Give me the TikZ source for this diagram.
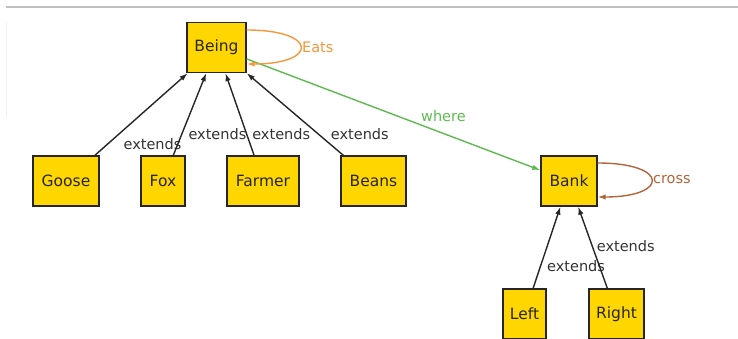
\documentclass[tikz,border=0pt]{standalone}
\usepackage{fontspec}
\setmainfont{DejaVu Sans}
\usetikzlibrary{arrows.meta}
\definecolor{boxfill}{HTML}{FFD600}
\definecolor{eatcol}{HTML}{F7963A}
\definecolor{crosscol}{HTML}{B2653C}
\definecolor{wherecol}{HTML}{5DBA4F}

\begin{document}
\begin{tikzpicture}[x=1pt, y=-1pt,
    thing/.style={draw=black!85, fill=boxfill, line width=1.4pt, minimum height=50pt,
      inner xsep=0pt, font=\fontsize{15.5}{18}\selectfont, text=black!85},
    ext/.style={-{Latex[length=8pt,width=5.5pt]}, line width=1.4pt, black!85},
    lbl/.style={font=\fontsize{14.5}{17}\selectfont, inner sep=1pt, text=black!80}]
  \useasboundingbox (0,0) rectangle (738,338);
  \clip (0,0) rectangle (738,338);
  % window edge
  \draw [black!25, line width=1.5pt] (6,7) -- (738,7);
  \draw [black!6, line width=1pt] (6,23) -- (6,117);
  % classes
  \node [thing, minimum width=59pt] (being) at (216.5,47.5) {Being};
  \node [thing, minimum width=66pt] (goose) at (66,181) {Goose};
  \node [thing, minimum width=44pt] (fox) at (163,181) {Fox};
  \node [thing, minimum width=72pt] (farmer) at (263,181) {Farmer};
  \node [thing, minimum width=65pt] (beans) at (373.5,181) {Beans};
  \node [thing, minimum width=56pt] (bank) at (569,181) {Bank};
  \node [thing, minimum width=43pt] (leftbank) at (524.5,314) {Left};
  \node [thing, minimum width=55pt] (rightbank) at (616.5,314) {Right};
  % extends
  \draw [ext] (goose) -- node [lbl, pos=0.14, anchor=west, xshift=14pt] {extends} (being);
  \draw [ext] (fox) -- node [lbl, pos=0.26, anchor=west, xshift=5pt] {extends} (being);
  \draw [ext] (farmer) -- node [lbl, pos=0.26, anchor=west, xshift=4pt] {extends} (being);
  \draw [ext] (beans) -- node [lbl, pos=0.26, anchor=west, xshift=11pt] {extends} (being);
  \draw [ext] (leftbank) -- node [lbl, pos=0.27, anchor=west, xshift=5pt] {extends} (bank);
  \draw [ext] (rightbank) -- node [lbl, pos=0.52, anchor=west, xshift=3pt] {extends} (bank);
  % relations
  \draw [ext, wherecol] (being) -- node [lbl, text=wherecol, pos=0.67, above=10pt] {where} (bank);
  \draw [ext, eatcol] ([yshift=17.5pt]being.east) to [out=0, in=0, looseness=5.4]
    node [lbl, text=eatcol, anchor=west, inner sep=1pt] {Eats} ([yshift=-16.5pt]being.east);
  \draw [ext, crosscol] ([yshift=18pt]bank.east) to [out=0, in=0, looseness=5.4]
    node [lbl, text=crosscol, anchor=west, inner sep=1pt] {cross} ([yshift=-16pt]bank.east);
\end{tikzpicture}
\end{document}
